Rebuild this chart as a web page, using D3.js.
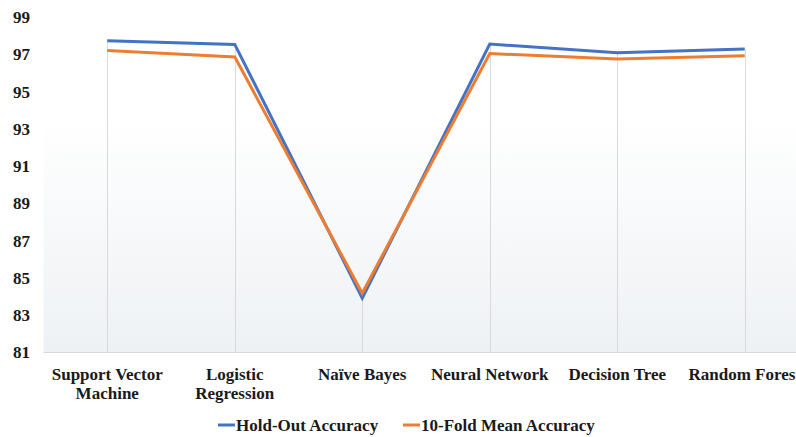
<!DOCTYPE html>
<html>
<head>
<meta charset="utf-8">
<script src="https://cdn.jsdelivr.net/npm/d3@7"></script>
<style>
  html, body { margin: 0; padding: 0; background: #ffffff; }
  svg { display: block; overflow: hidden; }
  svg text { font-family: "Liberation Serif", Tinos, "Times New Roman", "DejaVu Serif", serif; font-weight: bold; fill: #1a1a1a; }
</style>
</head>
<body>
<div id="chart"></div>
<script>
// Classifier accuracy (%) for each model
const categories = ["Support Vector Machine", "Logistic Regression", "Naïve Bayes", "Neural Network", "Decision Tree", "Random Forest"];
const categoryLines = [["Support Vector", "Machine"], ["Logistic", "Regression"], ["Naïve Bayes"], ["Neural Network"], ["Decision Tree"], ["Random Forest"]];
const holdOut = [97.73, 97.53, 83.92, 97.55, 97.08, 97.28];
const tenFold = [97.2, 96.86, 84.18, 97.04, 96.75, 96.92];
const yTicks = [81, 83, 85, 87, 89, 91, 93, 95, 97, 99];
const seriesNames = ["Hold-Out Accuracy", "10-Fold Mean Accuracy"];
const seriesColors = ["#4472C4", "#ED7D31"];

const W = 796, H = 437;
const plot = { left: 43.5, right: 808.5, top: 17, bottom: 352.5 };
const FONT = "'Liberation Serif', Tinos, 'Times New Roman', 'DejaVu Serif', serif";

const svg = d3.select("#chart").append("svg")
  .attr("width", W).attr("height", H)
  .attr("font-family", FONT);

const x = d3.scaleBand().domain(categories).range([plot.left, plot.right]);
const cx = c => x(c) + x.bandwidth() / 2;
const y = d3.scaleLinear().domain([81, 99]).range([plot.bottom, plot.top]);

// soft plot-area fill: white at the top, faint grey-blue near the axis
const defs = svg.append("defs");
const grad = defs.append("linearGradient").attr("id", "plotFill")
  .attr("x1", 0).attr("y1", 0).attr("x2", 0).attr("y2", 1);
grad.append("stop").attr("offset", "0.3").attr("stop-color", "#ffffff");
grad.append("stop").attr("offset", "1").attr("stop-color", "#eef1f4");

svg.append("rect")
  .attr("x", plot.left).attr("y", plot.top)
  .attr("width", plot.right - plot.left).attr("height", plot.bottom - plot.top)
  .attr("fill", "url(#plotFill)");

// drop lines from the highest point of each category down to the axis
svg.append("g").selectAll("line")
  .data(categories)
  .join("line")
  .attr("x1", d => Math.round(cx(d)) + 0.5)
  .attr("x2", d => Math.round(cx(d)) + 0.5)
  .attr("y1", (d, i) => y(Math.max(holdOut[i], tenFold[i])))
  .attr("y2", plot.bottom)
  .attr("stroke", "#d9d9d9")
  .attr("stroke-width", 1);

// category axis line
svg.append("line")
  .attr("x1", plot.left).attr("x2", plot.right)
  .attr("y1", plot.bottom).attr("y2", plot.bottom)
  .attr("stroke", "#d9d9d9").attr("stroke-width", 1);

// value axis labels
const yAxis = d3.axisLeft(y).tickValues(yTicks).tickSize(0).tickPadding(0);
const yg = svg.append("g").attr("transform", "translate(30,0)").call(yAxis);
yg.attr("font-family", FONT);
yg.select(".domain").remove();
yg.selectAll("text")
  .attr("font-size", 17)
  .attr("font-weight", "bold")
  .attr("fill", "#1a1a1a");

// category labels
const xl = svg.append("g");
categories.forEach((c, i) => {
  const t = xl.append("text")
    .attr("x", cx(c))
    .attr("y", 380)
    .attr("text-anchor", "middle")
    .attr("font-size", 17);
  categoryLines[i].forEach((ln, k) => {
    t.append("tspan").attr("x", cx(c)).attr("dy", k === 0 ? 0 : 19).text(ln);
  });
});

// series lines
const line = d3.line()
  .x((d, i) => cx(categories[i]))
  .y(d => y(d));

[holdOut, tenFold].forEach((vals, s) => {
  svg.append("path")
    .datum(vals)
    .attr("d", line)
    .attr("fill", "none")
    .attr("stroke", seriesColors[s])
    .attr("stroke-width", 3)
    .attr("stroke-linejoin", "miter")
    .attr("stroke-linecap", "butt");
});

// legend
const legendX = [218, 403];
const legend = svg.append("g");
seriesNames.forEach((name, s) => {
  legend.append("line")
    .attr("x1", legendX[s]).attr("x2", legendX[s] + 17)
    .attr("y1", 425).attr("y2", 425)
    .attr("stroke", seriesColors[s]).attr("stroke-width", 3);
  legend.append("text")
    .attr("x", legendX[s] + 18)
    .attr("y", 430.5)
    .attr("font-size", 17)
    .text(name);
});
</script>
</body>
</html>
